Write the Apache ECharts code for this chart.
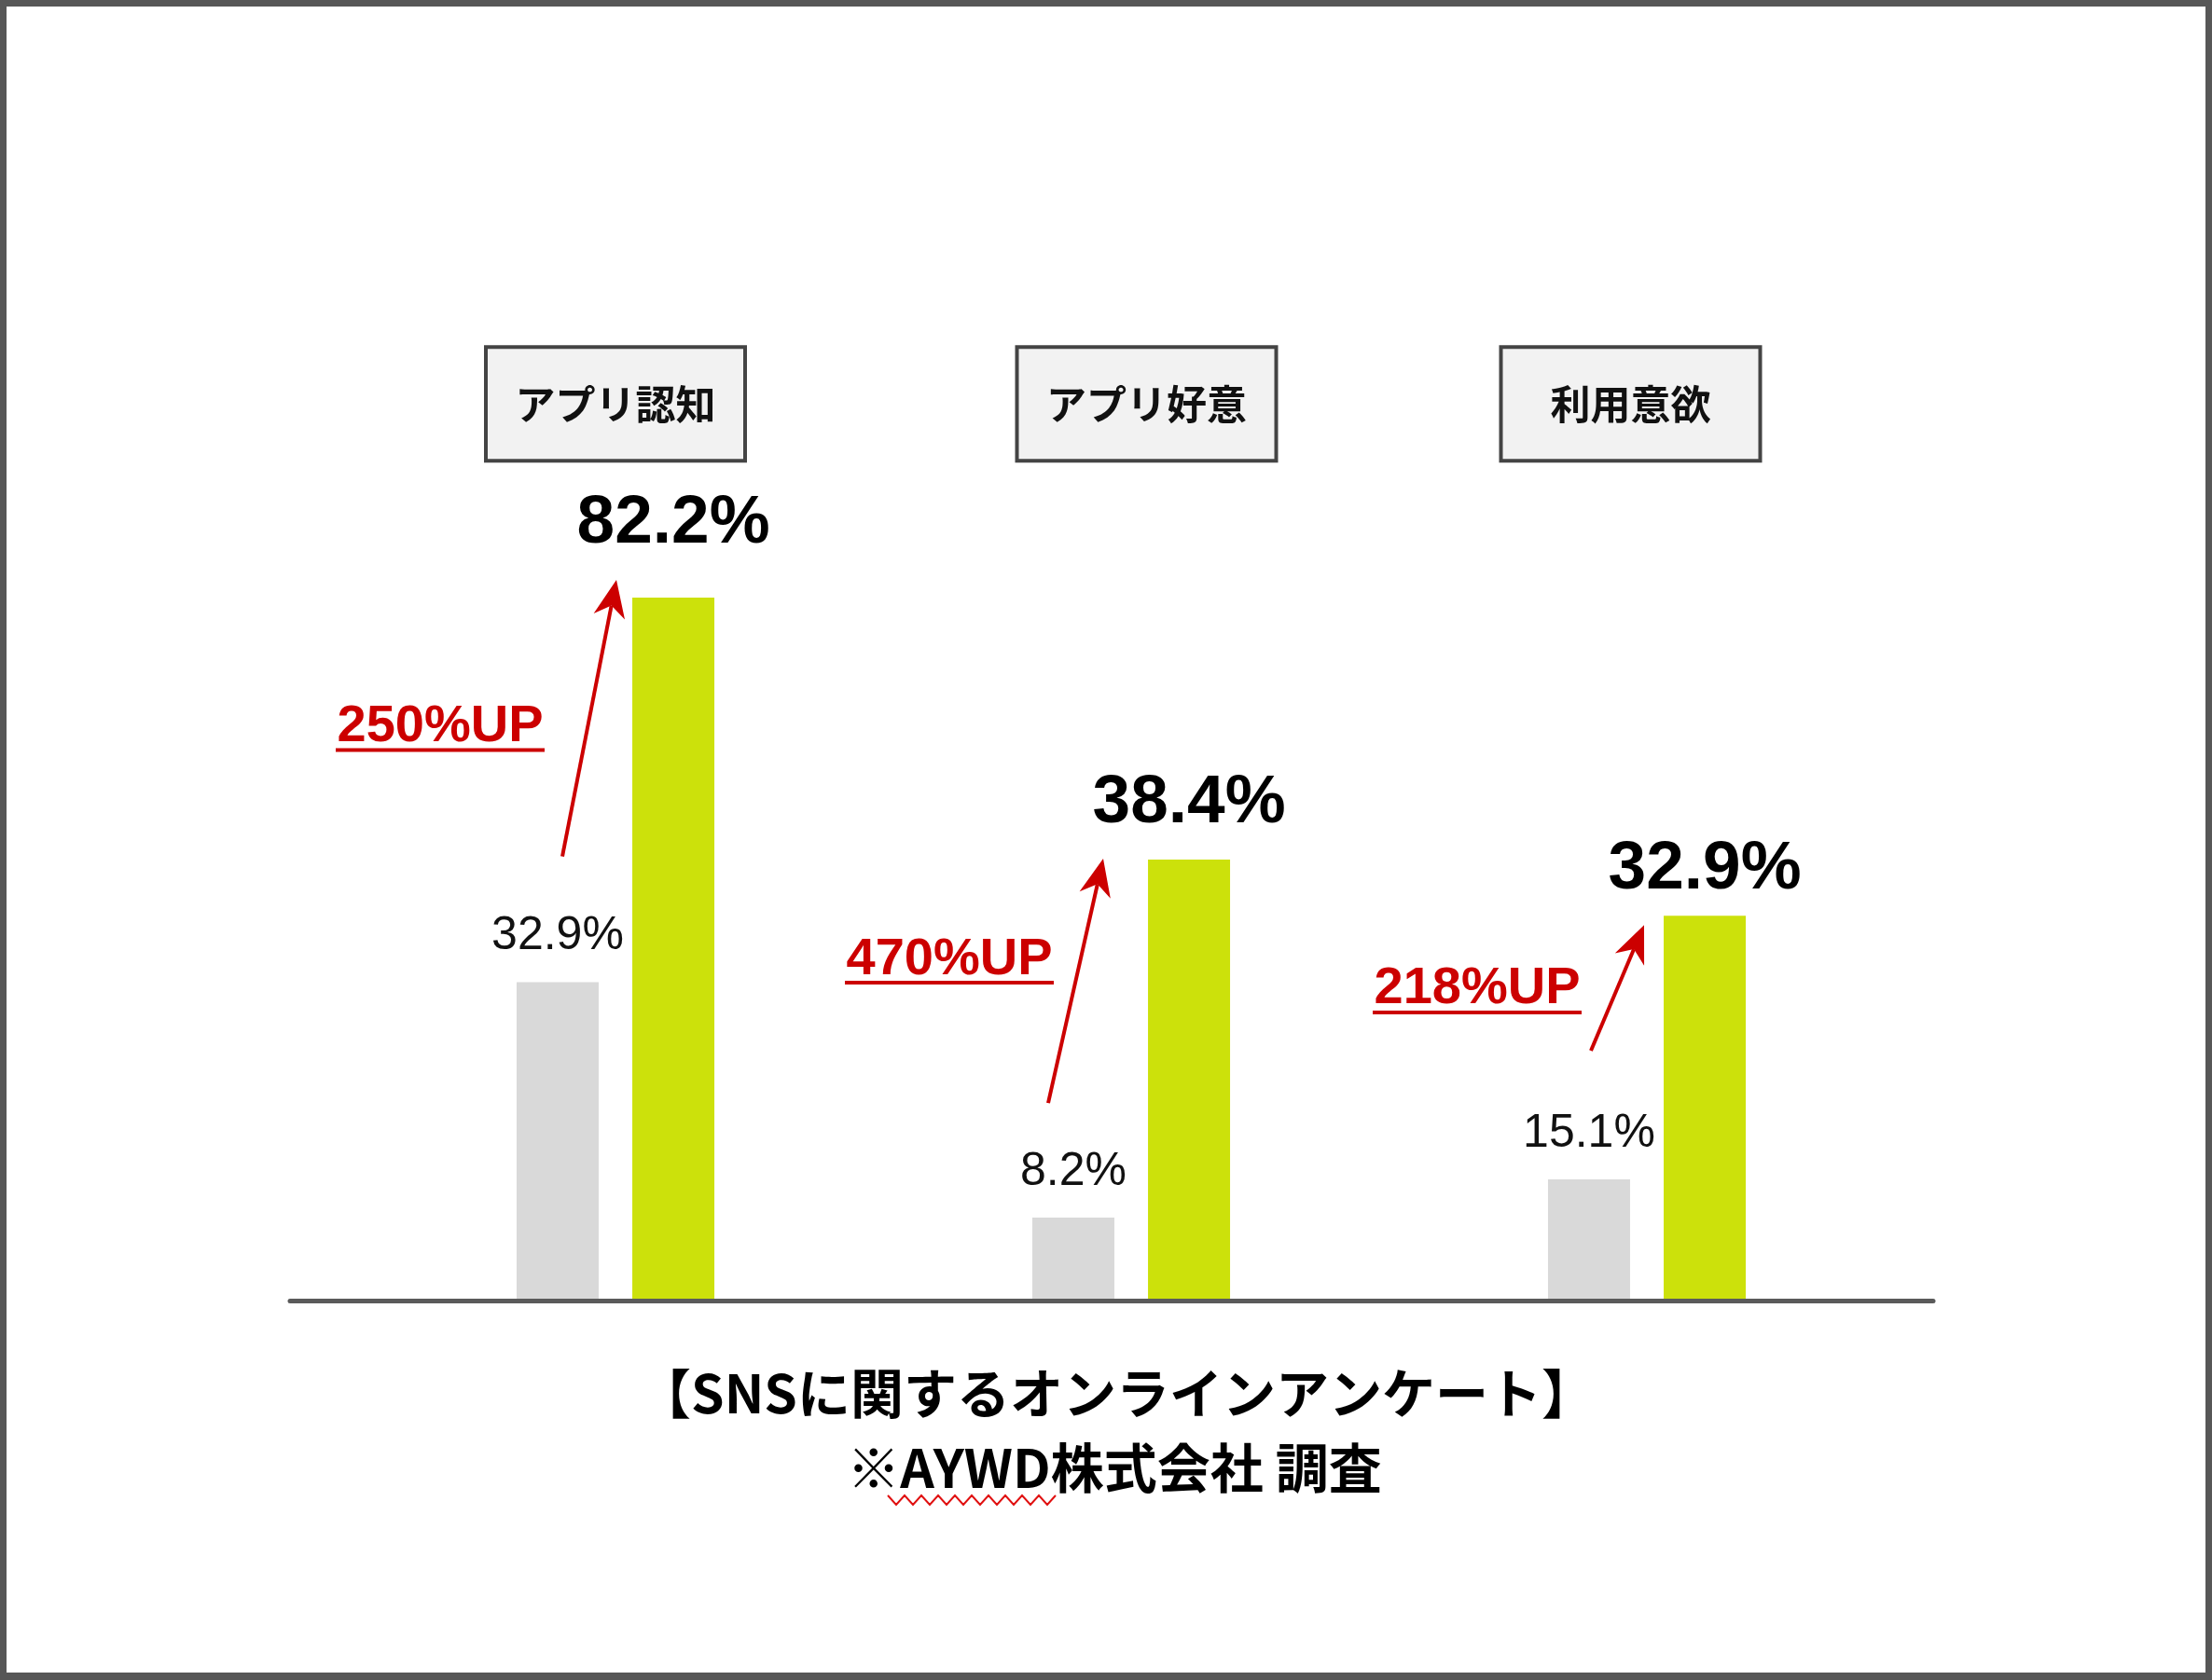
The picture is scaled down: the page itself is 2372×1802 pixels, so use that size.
<!DOCTYPE html>
<html><head><meta charset="utf-8">
<script src="https://cdn.jsdelivr.net/npm/echarts@6/dist/echarts.min.js"></script>
<style>html,body{margin:0;padding:0;background:#fff}#c{width:2372px;height:1802px}</style>
</head><body><div id="c"></div>
<script>
// ---- data ----
const categories = ['アプリ認知', 'アプリ好意', '利用意欲'];
// printed values
const beforeLabels = ['32.9%', '8.2%', '15.1%'];
const afterLabels = ['82.2%', '38.4%', '32.9%'];
// bar heights as drawn in the picture (stylised, not to scale with the printed values), 0–100 axis
const beforeBars = [37.1, 9.5, 14.0];
const afterBars = [82.2, 51.5, 44.9];
const upLabels = ['250%UP', '470%UP', '218%UP'];
const footLines = ['【SNSに関するオンラインアンケート】', '※AYWD株式会社 調査'];

// ---- styles / annotation layout (pixel offsets from category centre and bar tops) ----
const RED = '#cc0000';
const afterLabelDist = [43, 24, 13];
const arrowGeom = [
  {tail: [-57, -135], tip: [1, -19], text: [-188, -274]},
  {tail: [-89, -123], tip: [-30, -1], text: [-195, -277]},
  {tail: [-60, -138], tip: [-3, 10], text: [-182, -204]}
];
const boxShift = [0, 16.5, -17.5];

function renderArrow(params, api) {
  const i = params.dataIndex;
  const cx = api.coord([i, 0])[0];
  const gy = api.coord([i, beforeBars[i]])[1];
  const ay = api.coord([i, afterBars[i]])[1];
  const g = arrowGeom[i];
  const tx = cx + g.tail[0], ty = gy + g.tail[1];
  const hx = cx + g.tip[0], hy = ay + g.tip[1];
  const dx = hx - tx, dy = hy - ty, len = Math.hypot(dx, dy);
  const ux = dx / len, uy = dy / len, px = -uy, py = ux;
  const L = 40, W = 17, N = 28;
  const bx = hx - ux * L, by = hy - uy * L;
  const nx = hx - ux * N, ny = hy - uy * N;
  const lx = cx + g.text[0], ly = gy + g.text[1];
  return {
    type: 'group',
    children: [
      {type: 'line', shape: {x1: tx, y1: ty, x2: nx, y2: ny}, style: {stroke: RED, lineWidth: 4}},
      {type: 'polygon', shape: {points: [[hx, hy], [bx + px * W, by + py * W], [nx, ny], [bx - px * W, by - py * W]]}, style: {fill: RED}},
      {type: 'text', x: lx, y: ly, style: {text: upLabels[i], fill: RED, fontSize: 56, fontWeight: 'bold', fontFamily: '"Liberation Sans", Arial, sans-serif', align: 'center', verticalAlign: 'middle'}},
      {type: 'rect', shape: {x: lx - 112, y: ly + 23, width: 224, height: 4}, style: {fill: RED}}
    ]
  };
}

const squiggle = [];
for (let k = 0; k <= 20; k++) squiggle.push([952 + k * 9, k % 2 ? 1614 : 1604]);

const chart = echarts.init(document.getElementById('c'), null, {renderer: 'canvas'});
chart.setOption({
  animation: false,
  backgroundColor: '#ffffff',
  grid: [
    {left: 383.5, right: 329.5, top: 478.2, bottom: 409},
    {left: 311, right: 299, top: 478, bottom: 406.5}
  ],
  xAxis: [
    {type: 'category', gridIndex: 0, data: categories, axisLine: {show: false}, axisTick: {show: false}, axisLabel: {show: false}},
    {type: 'category', gridIndex: 0, data: categories, position: 'top', offset: -14,
      axisLine: {show: false}, axisTick: {show: false},
      axisLabel: {
        interval: 0, margin: 0,
        formatter: function (v, idx) {
          const s = boxShift[idx];
          if (s > 0) return '{sp| }{box|' + v + '}';
          if (s < 0) return '{box|' + v + '}{sp2| }';
          return '{box|' + v + '}';
        },
        rich: {
          box: {width: 274, height: 118, lineHeight: 118, align: 'center', backgroundColor: '#f2f2f2', borderColor: '#444444', borderWidth: 4,
            fontSize: 43, fontWeight: 'bold', fontFamily: '"Noto Sans CJK JP", sans-serif', color: '#111111'},
          sp: {width: 33},
          sp2: {width: 35}
        }
      }
    },
    {type: 'value', gridIndex: 1, min: 0, max: 1, axisLine: {show: true, onZero: false, lineStyle: {color: '#5a5a5a', width: 5}},
      axisTick: {show: false}, axisLabel: {show: false}, splitLine: {show: false}}
  ],
  yAxis: [
    {type: 'value', gridIndex: 0, min: 0, max: 100, show: false},
    {type: 'value', gridIndex: 1, min: 0, max: 1, show: false}
  ],
  series: [
    {
      type: 'bar', name: 'before', xAxisIndex: 0, yAxisIndex: 0, data: beforeBars,
      barWidth: 88, barGap: '41%', itemStyle: {color: '#d9d9d9'},
      label: {show: true, position: 'top', distance: 24, formatter: p => beforeLabels[p.dataIndex],
        fontSize: 50, lineHeight: 50, fontFamily: '"Liberation Sans", Arial, sans-serif', color: '#111111'}
    },
    {
      type: 'bar', name: 'after', xAxisIndex: 0, yAxisIndex: 0,
      data: afterBars.map((v, i) => ({value: v, label: {distance: afterLabelDist[i]}})),
      barWidth: 88, barGap: '41%', itemStyle: {color: '#cce10b'},
      label: {show: true, position: 'top', formatter: p => afterLabels[p.dataIndex],
        fontSize: 73, lineHeight: 73, fontWeight: 'bold', fontFamily: '"Liberation Sans", Arial, sans-serif', color: '#000000'}
    },
    {
      type: 'custom', xAxisIndex: 0, yAxisIndex: 0, clip: false, z: 5,
      data: afterBars.map((v, i) => [i, v]),
      encode: {x: 0, y: 1},
      renderItem: renderArrow
    }
  ],
  graphic: [
    {type: 'rect', shape: {x: 3.5, y: 3.5, width: 2365, height: 1794}, style: {fill: 'none', stroke: '#575757', lineWidth: 7}, z: 100},
    {type: 'rect', shape: {x: 0, y: 1796, width: 2372, height: 6}, style: {fill: '#575757'}, z: 100},
    {type: 'text', x: 1197, y: 1494, style: {text: footLines[0], fontSize: 57, fontWeight: 'bold', fontFamily: '"Noto Sans CJK JP", sans-serif', fill: '#000', align: 'center', verticalAlign: 'middle'}},
    {type: 'text', x: 1195, y: 1574, style: {text: footLines[1], fontSize: 57, fontWeight: 'bold', fontFamily: '"Noto Sans CJK JP", sans-serif', fill: '#000', align: 'center', verticalAlign: 'middle'}},
    {type: 'polyline', shape: {points: squiggle}, style: {stroke: '#e01010', lineWidth: 2, fill: 'none'}}
  ]
});
</script>
</body></html>
